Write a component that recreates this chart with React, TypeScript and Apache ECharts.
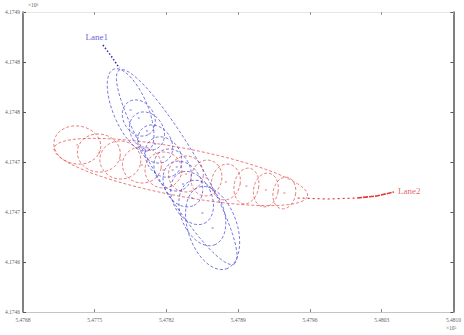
import React, { useEffect, useRef } from "react";
import * as echarts from "echarts";

// Axis ticks
const xMin = 547680;
const xStep = 70;
const xTickLabels = ["5.4768", "5.4775", "5.4782", "5.4789", "5.4796", "5.4803", "5.4810"];
const yMin = 4174600;
const yStep = 50;
const yTickLabels = ["4.1746", "4.1746", "4.1747", "4.1747", "4.1748", "4.1748", "4.1749"];

// Error ellipses: [centreX, centreY, semiAxisA, semiAxisB, angleDeg]
const lane1Ellipses = [
  [547830, 4174745, 112, 21, -60],
  [547785, 4174802, 44, 17, -68],
  [547793, 4174794, 19, 15, -60],
  [547801, 4174781, 20, 16, -60],
  [547809, 4174768, 20, 16, -60],
  [547817, 4174755, 21, 17, -62],
  [547826, 4174742, 22, 17, -62],
  [547836, 4174728, 24, 18, -63],
  [547845, 4174714, 28, 19, -65],
  [547855, 4174699, 34, 21, -70],
  [547865, 4174684, 43, 24, -72],
];
const lane2Ellipses = [
  [547834, 4174740, 126, 24, -11],
  [547733, 4174767, 23, 19, -10],
  [547754, 4174759, 21, 19, -10],
  [547775, 4174752, 20, 19, -10],
  [547796, 4174747, 19, 18, -10],
  [547817, 4174742, 18, 18, -10],
  [547839, 4174738, 17, 18, -10],
  [547859, 4174734, 15, 18, -10],
  [547878, 4174730, 14, 18, -10],
  [547898, 4174726, 12, 18, -10],
  [547917, 4174722, 12, 17, -10],
  [547935, 4174719, 11, 16, -10],
];
// Track lines
const lane1Track = [
  [547758, 4174867],
  [547766, 4174856],
  [547774, 4174844],
];
const lane2TrackDotted = [
  [547948, 4174714],
  [547977, 4174713],
  [548006, 4174714],
];
const lane2TrackSolid = [
  [548006, 4174714],
  [548025, 4174716],
  [548042, 4174120 + 600],
];
// Name labels
const laneNames = ["Lane1", "Lane2"];
const lane1LabelPos = [547752, 4174875];
const lane2LabelPos = [548044, 4174121 + 600];

const BLUE = "#3434d2";
const RED = "#e03a3a";

function ellipseSeries(data: number[][], color: string) {
  return {
    type: "custom",
    xAxisIndex: 0,
    yAxisIndex: 0,
    data,
    encode: { x: 0, y: 1 },
    silent: true,
    renderItem: (params: any, api: any) => {
      const cx = api.value(0);
      const cy = api.value(1);
      const a = api.value(2);
      const b = api.value(3);
      const th = (api.value(4) * Math.PI) / 180;
      const pts: number[][] = [];
      const N = 72;
      for (let k = 0; k <= N; k++) {
        const t = (k / N) * Math.PI * 2;
        const x = cx + a * Math.cos(th) * Math.cos(t) - b * Math.sin(th) * Math.sin(t);
        const y = cy + a * Math.sin(th) * Math.cos(t) + b * Math.cos(th) * Math.sin(t);
        pts.push(api.coord([x, y]));
      }
      const c = api.coord([cx, cy]);
      return {
        type: "group",
        children: [
          {
            type: "polygon",
            shape: { points: pts },
            style: { fill: "none", stroke: color, lineWidth: 0.8, lineDash: [3, 2], opacity: 0.85 },
          },
          {
            type: "rect",
            shape: { x: c[0] - 1, y: c[1] - 0.5, width: 2, height: 1 },
            style: { fill: color, opacity: 0.7 },
          },
        ],
      };
    },
  };
}

export default function App() {
  const ref = useRef<HTMLDivElement>(null);
  useEffect(() => {
    if (!ref.current) return;
    const chart = echarts.init(ref.current, null, { renderer: "svg" });
    const tickFont = { fontSize: 5.5, color: "#666", fontFamily: "Liberation Serif" };
    chart.setOption({
      animation: false,
      backgroundColor: "#ffffff",
      grid: { left: 23, right: 7, top: 12, bottom: 23, containLabel: false },
      xAxis: [
        {
          type: "value",
          position: "bottom",
          min: xMin,
          max: xMin + xStep * 6,
          interval: xStep,
          axisLine: { show: true, onZero: false, lineStyle: { color: "#c4c4c4", width: 1 } },
          axisTick: { show: true, inside: true, length: 3, lineStyle: { color: "#888" } },
          axisLabel: {
            ...tickFont,
            margin: 5,
            formatter: (v: number) => xTickLabels[Math.round((v - xMin) / xStep)] ?? "",
          },
          splitLine: { show: false },
        },
        {
          type: "value",
          position: "top",
          min: xMin,
          max: xMin + xStep * 6,
          interval: xStep,
          axisLine: { show: true, onZero: false, lineStyle: { color: "#e6e6e6", width: 1 } },
          axisTick: { show: true, inside: true, length: 3, lineStyle: { color: "#999" } },
          axisLabel: { show: false },
          splitLine: { show: false },
        },
      ],
      yAxis: [
        {
          type: "value",
          position: "left",
          min: yMin,
          max: yMin + yStep * 6,
          interval: yStep,
          axisLine: { show: true, onZero: false, lineStyle: { color: "#555", width: 1.5 } },
          axisTick: { show: true, inside: true, length: 3, lineStyle: { color: "#555" } },
          axisLabel: {
            ...tickFont,
            margin: 3,
            formatter: (v: number) => yTickLabels[Math.round((v - yMin) / yStep)] ?? "",
          },
          splitLine: { show: false },
        },
        {
          type: "value",
          position: "right",
          min: yMin,
          max: yMin + yStep * 6,
          interval: yStep,
          axisLine: { show: true, onZero: false, lineStyle: { color: "#555", width: 1.5 } },
          axisTick: { show: true, inside: true, length: 3, lineStyle: { color: "#555" } },
          axisLabel: { show: false },
          splitLine: { show: false },
        },
      ],
      series: [
        ellipseSeries(lane2Ellipses, RED),
        ellipseSeries(lane1Ellipses, BLUE),
        {
          type: "line",
          data: lane1Track,
          showSymbol: false,
          lineStyle: { color: "#2a2aa8", width: 1.5, type: [1.5, 2] },
          silent: true,
        },
        {
          type: "line",
          data: lane2TrackDotted,
          showSymbol: false,
          lineStyle: { color: RED, width: 1.2, type: [2, 3] },
          silent: true,
        },
        {
          type: "line",
          data: lane2TrackSolid,
          showSymbol: false,
          lineStyle: { color: RED, width: 1.6, type: [5, 1] },
          silent: true,
        },
        {
          type: "scatter",
          symbolSize: 0,
          data: [{ value: lane1LabelPos, name: laneNames[0] }],
          label: {
            show: true,
            position: "inside",
            formatter: "{b}",
            color: BLUE,
            fontSize: 9,
            fontFamily: "Liberation Serif",
          },
          silent: true,
        },
        {
          type: "scatter",
          symbolSize: 0,
          data: [{ value: lane2LabelPos, name: laneNames[1] }],
          label: {
            show: true,
            position: "right",
            distance: 2,
            formatter: "{b}",
            color: RED,
            fontSize: 9,
            fontFamily: "Liberation Serif",
          },
          silent: true,
        },
      ],
      graphic: [
        {
          type: "text",
          left: 28,
          top: 2,
          style: { text: "×10⁶", fontSize: 5.5, fill: "#666", fontFamily: "Liberation Serif" },
        },
        {
          type: "text",
          left: 446,
          top: 325,
          style: { text: "×10⁵", fontSize: 5.5, fill: "#666", fontFamily: "Liberation Serif" },
        },
      ],
    });
    return () => chart.dispose();
  }, []);
  return (
    <div
      ref={ref}
      style={{ position: "fixed", left: 0, top: 0, width: 464, height: 335, background: "#fff" }}
    />
  );
}
